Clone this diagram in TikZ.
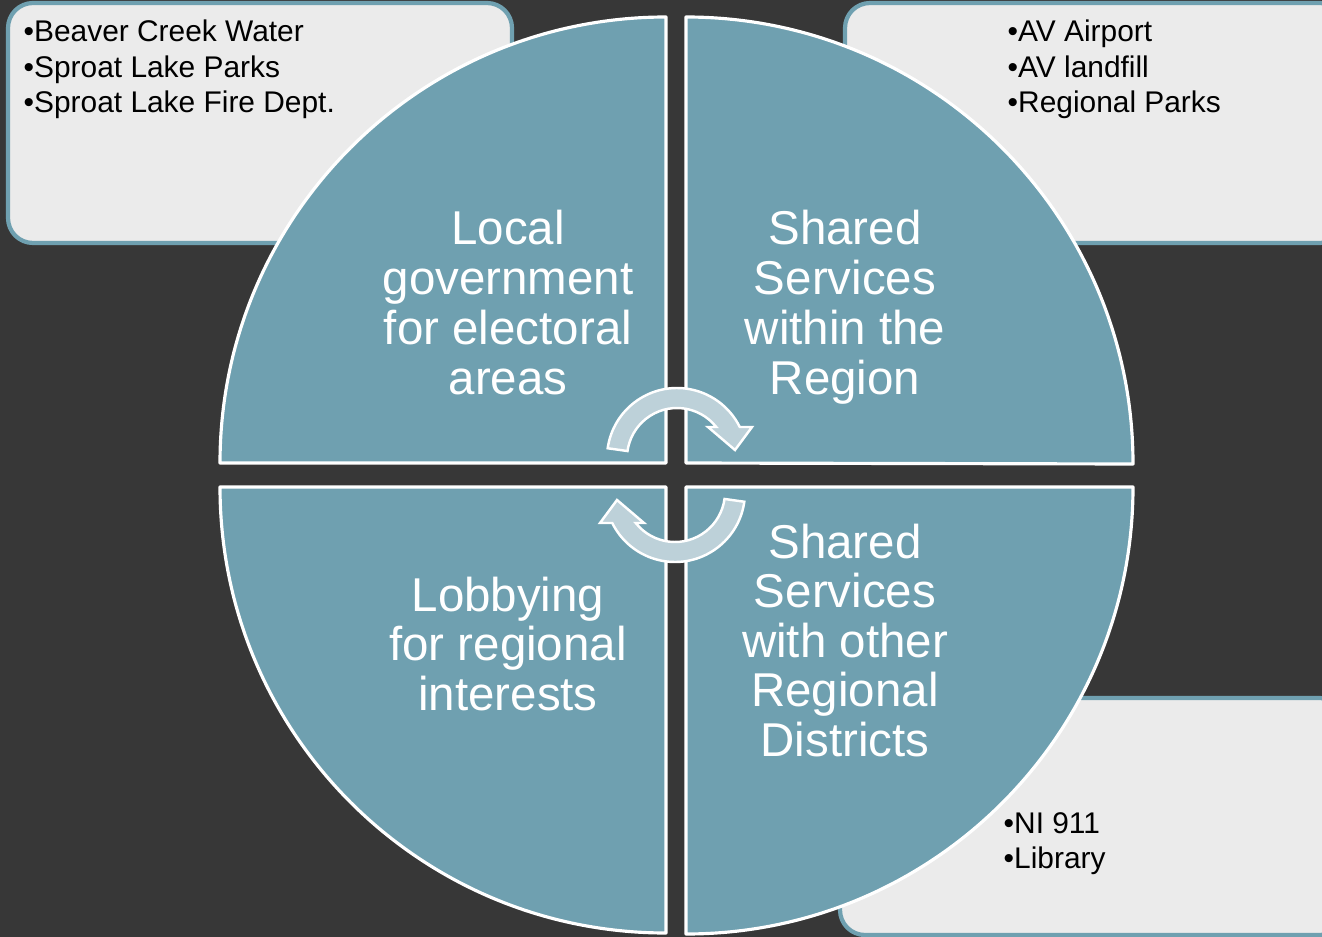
\documentclass[tikz,border=0pt]{standalone}
\usepackage{fontspec}
\setmainfont{Liberation Sans}
\usetikzlibrary{calc}
\definecolor{bgc}{HTML}{373737}
\definecolor{quad}{HTML}{6FA0B0}
\definecolor{callfill}{HTML}{EBEBEB}
\definecolor{callline}{HTML}{6FA0B0}
\definecolor{arrfill}{HTML}{BDD1D9}
\begin{document}
\begin{tikzpicture}[x=0.01cm,y=0.01cm,
  quadrant/.style={fill=quad,draw=white,line width=0.9pt,line join=round},
  callout/.style={fill=callfill,draw=callline,line width=1.2pt,rounded corners=0.25cm},
  bigtext/.style={text=white,font=\fontsize{13.5}{14.2}\selectfont,inner sep=0pt,anchor=base},
  bullet/.style={text=black,font=\fontsize{8.5}{10}\selectfont,inner sep=0pt,anchor=base west},
  cycarrow/.style={fill=arrfill,draw=white,line width=0.7pt,line join=miter}]
\fill[bgc] (0,0) rectangle (1322,-937);
\useasboundingbox (0,0) rectangle (1322,-937);
\clip (0,0) rectangle (1322,-937);
% callout boxes
\draw[callout] (8,-3) rectangle (512,-243);
\draw[callout] (845,-3) rectangle (1345,-243);
\draw[callout] (840,-698) rectangle (1345,-935);
% quadrants
\draw[quadrant] (666,-463) -- (220,-463) arc[start angle=180,end angle=90,radius=446] -- cycle;
\draw[quadrant] (686,-463) -- (686,-17) arc[start angle=90,end angle=0,radius=447] -- cycle;
\draw[quadrant] (666,-487) -- (666,-933) arc[start angle=270,end angle=180,radius=446] -- cycle;
\draw[quadrant] (686,-487) -- (1133,-487) arc[start angle=0,end angle=-90,radius=447] -- cycle;
% quadrant texts
\foreach \t [count=\i] in {Local,government,for electoral,areas}
  \node[bigtext] (tl\i) at (508,{-245-49.7*(\i-1)}) {\t};
\foreach \t [count=\i] in {Shared,Services,within the,Region}
  \node[bigtext] (tr\i) at (845,{-245-49.7*(\i-1)}) {\t};
\foreach \t [count=\i] in {Lobbying,for regional,interests}
  \node[bigtext] (bl\i) at (508,{-611-49.7*(\i-1)}) {\t};
\foreach \t [count=\i] in {Shared,Services,with other,Regional,Districts}
  \node[bigtext] (br\i) at (845,{-558-49.5*(\i-1)}) {\t};
% bullet texts
\foreach \t [count=\i] in {Beaver Creek Water,Sproat Lake Parks,Sproat Lake Fire Dept.}
  \node[bullet] (lb\i) at (23,{-42-35.5*(\i-1)}) {•\t};
\foreach \t [count=\i] in {AV Airport,AV landfill,Regional Parks}
  \node[bullet] (rb\i) at (1007,{-42-35.5*(\i-1)}) {•\t};
\foreach \t [count=\i] in {NI 911,Library}
  \node[bullet] (db\i) at (1003,{-833-35.5*(\i-1)}) {•\t};
% circular arrows
\path[cycarrow] ($(677,-458)+(172:70)$) arc[start angle=172,end angle=26.3,radius=70]
  -- (752,-427) -- (735,-450) -- (708,-427)
  -- ($(677,-458)+(38.3:50)$) arc[start angle=38.3,end angle=172,radius=50] -- cycle;
\path[cycarrow] ($(675,-492)+(352:70)$) arc[start angle=352,end angle=206.3,radius=70]
  -- (600,-523) -- (617,-500) -- (644,-523)
  -- ($(675,-492)+(218.3:50)$) arc[start angle=218.3,end angle=352,radius=50] -- cycle;
\end{tikzpicture}
\end{document}
